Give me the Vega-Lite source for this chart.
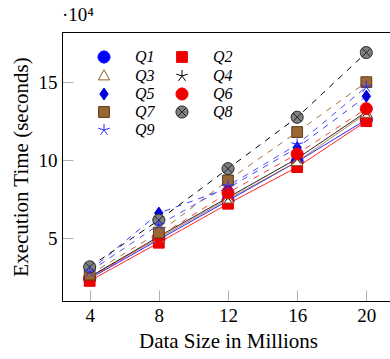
{
  "$schema": "https://vega.github.io/schema/vega-lite/v6.json",
  "width": 332,
  "height": 269,
  "autosize": "none",
  "padding": {"left": 62, "top": 32, "right": 0, "bottom": 58},
  "title": {"text": "·10⁴", "anchor": "start", "frame": "group", "offset": 7, "font": "Liberation Serif", "fontSize": 19, "fontWeight": "normal", "color": "black"},
  "config": {
    "view": {"stroke": "black", "strokeWidth": 1},
    "axis": {"grid": false, "domainColor": "black", "domainWidth": 1, "tickColor": "#b0b0b0", "tickWidth": 1, "tickSize": -11, "labelFont": "Liberation Serif", "labelFontSize": 19, "labelColor": "black", "titleFont": "Liberation Serif", "titleFontSize": 21, "titleFontWeight": "normal", "titleColor": "black"},
    "legend": {"labelFont": "Liberation Serif", "labelFontSize": 16, "labelFontStyle": "italic", "labelColor": "black"}
  },
  "data": {"values": [
    {"series": "Q1", "size": 4, "time": 24000}, {"series": "Q1", "size": 8, "time": 49000}, {"series": "Q1", "size": 12, "time": 74000}, {"series": "Q1", "size": 16, "time": 99000}, {"series": "Q1", "size": 20, "time": 126000},
    {"series": "Q2", "size": 4, "time": 22500}, {"series": "Q2", "size": 8, "time": 47000}, {"series": "Q2", "size": 12, "time": 72000}, {"series": "Q2", "size": 16, "time": 95500}, {"series": "Q2", "size": 20, "time": 125000},
    {"series": "Q3", "size": 4, "time": 25000}, {"series": "Q3", "size": 8, "time": 50000}, {"series": "Q3", "size": 12, "time": 75000}, {"series": "Q3", "size": 16, "time": 99000}, {"series": "Q3", "size": 20, "time": 130000},
    {"series": "Q4", "size": 4, "time": 25000}, {"series": "Q4", "size": 8, "time": 51000}, {"series": "Q4", "size": 12, "time": 76000}, {"series": "Q4", "size": 16, "time": 101000}, {"series": "Q4", "size": 20, "time": 131000},
    {"series": "Q5", "size": 4, "time": 29000}, {"series": "Q5", "size": 8, "time": 66000}, {"series": "Q5", "size": 12, "time": 82000}, {"series": "Q5", "size": 16, "time": 108000}, {"series": "Q5", "size": 20, "time": 141000},
    {"series": "Q6", "size": 4, "time": 24000}, {"series": "Q6", "size": 8, "time": 51000}, {"series": "Q6", "size": 12, "time": 79000}, {"series": "Q6", "size": 16, "time": 104000}, {"series": "Q6", "size": 20, "time": 133000},
    {"series": "Q7", "size": 4, "time": 26500}, {"series": "Q7", "size": 8, "time": 53500}, {"series": "Q7", "size": 12, "time": 87000}, {"series": "Q7", "size": 16, "time": 118000}, {"series": "Q7", "size": 20, "time": 150000},
    {"series": "Q8", "size": 4, "time": 31500}, {"series": "Q8", "size": 8, "time": 61500}, {"series": "Q8", "size": 12, "time": 94500}, {"series": "Q8", "size": 16, "time": 127500}, {"series": "Q8", "size": 20, "time": 169000},
    {"series": "Q9", "size": 4, "time": 28500}, {"series": "Q9", "size": 8, "time": 58500}, {"series": "Q9", "size": 12, "time": 83500}, {"series": "Q9", "size": 16, "time": 110000}, {"series": "Q9", "size": 20, "time": 147000}
  ]},
  "encoding": {
    "x": {"field": "size", "type": "quantitative", "scale": {"domain": [2.4, 21.6], "nice": false, "zero": false}, "axis": {"values": [4, 8, 12, 16, 20], "title": "Data Size in Millions", "labelPadding": 16, "titlePadding": 5}},
    "y": {"field": "time", "type": "quantitative", "scale": {"domain": [9600, 182200], "nice": false, "zero": false}, "axis": {"values": [50000, 100000, 150000], "labelExpr": "datum.value / 10000", "title": "Execution Time (seconds)", "labelPadding": 16, "titlePadding": 7}}
  },
  "layer": [
    {
      "mark": {"type": "line", "strokeWidth": 1},
      "encoding": {
        "color": {"field": "series", "type": "nominal", "legend": null, "scale": {"range": ["#0000ff","#ff0000","#a8713c","#000000","#3f3fff","#ff3a3a","#a8713c","#000000","#4f4fff"]}},
        "strokeDash": {"field": "series", "type": "nominal", "legend": null, "scale": {"range": [[1,0],[1,0],[1,0],[1,0],[6,6],[6,6],[6,6],[6,6],[6,6]]}}
      }
    },
    {
      "mark": {"type": "point", "filled": true, "size": 144, "strokeWidth": 1, "opacity": 1},
      "encoding": {
        "shape": {"field": "series", "type": "nominal", "scale": {"domain": ["Q1","Q2","Q3","Q4","Q5","Q6","Q7","Q8","Q9"], "range": [
          "M1,0A1,1 0 1,1 -1,0A1,1 0 1,1 1,0Z",
          "M-0.9,-0.9H0.9V0.9H-0.9Z",
          "M0,-1.05L0.95,0.65H-0.95Z",
          "M0,0L0,-1M0,0L0.951,-0.309M0,0L0.588,0.809M0,0L-0.588,0.809M0,0L-0.951,-0.309",
          "M0,-1L0.7,0L0,1L-0.7,0Z",
          "M1,0A1,1 0 1,1 -1,0A1,1 0 1,1 1,0Z",
          "M-0.9,-0.9H0.9V0.9H-0.9Z",
          "M1,0A1,1 0 1,1 -1,0A1,1 0 1,1 1,0ZM-0.707,-0.707L0.707,0.707M-0.707,0.707L0.707,-0.707",
          "M0,0L0,-1M0,0L0.951,-0.309M0,0L0.588,0.809M0,0L-0.588,0.809M0,0L-0.951,-0.309"
        ]},
          "legend": {"title": null, "orient": "top-left", "offset": 17, "direction": "horizontal", "columns": 2, "columnPadding": 2, "rowPadding": 2, "symbolSize": 144, "symbolStrokeWidth": 1, "symbolOffset": 17, "labelOffset": 23}
        },
        "fill": {"field": "series", "type": "nominal", "scale": {"domain": ["Q1","Q2","Q3","Q4","Q5","Q6","Q7","Q8","Q9"], "range": ["#0000ff","#ee0000","#ffffff","transparent","#0000dd","#ee0000","#9a6634","#808080","transparent"]},
          "legend": {"title": null, "orient": "top-left", "offset": 17, "direction": "horizontal", "columns": 2, "columnPadding": 2, "rowPadding": 2, "symbolSize": 144, "symbolStrokeWidth": 1, "symbolOffset": 17, "labelOffset": 23}
        },
        "stroke": {"field": "series", "type": "nominal", "scale": {"domain": ["Q1","Q2","Q3","Q4","Q5","Q6","Q7","Q8","Q9"], "range": ["#0000ff","#ee0000","#8b5a2b","#000000","#0000dd","#ee0000","#5c3b1c","#222222","#2a2aff"]},
          "legend": {"title": null, "orient": "top-left", "offset": 17, "direction": "horizontal", "columns": 2, "columnPadding": 2, "rowPadding": 2, "symbolSize": 144, "symbolStrokeWidth": 1, "symbolOffset": 17, "labelOffset": 23}
        }
      }
    }
  ]
}
